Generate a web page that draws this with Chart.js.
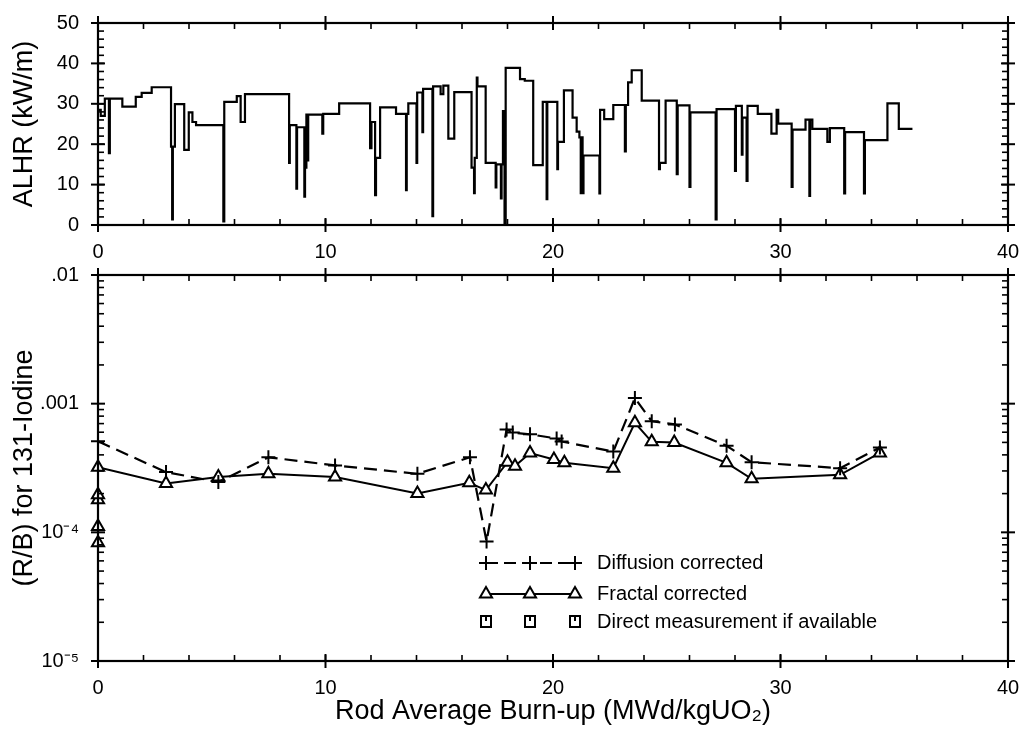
<!DOCTYPE html>
<html>
<head>
<meta charset="utf-8">
<title>ALHR and R/B for 131-Iodine vs burn-up</title>
<script src="https://cdn.jsdelivr.net/npm/chart.js@4.4.1/dist/chart.umd.min.js"></script>
<style>
  html, body { margin: 0; padding: 0; background: #fff; }
  #wrap { position: relative; width: 1028px; height: 731px; }
  canvas { position: absolute; left: 0; }
  #alhrChart { top: 0; }
  #rbChart { top: 252px; }
</style>
</head>
<body>
<div id="wrap">
  <canvas id="alhrChart" width="1028" height="264"></canvas>
  <canvas id="rbChart" width="1028" height="479"></canvas>
</div>
<script>
// power history (step: value holds from each burn-up until the next one)
const historyBurnup = [
  0.00, 0.12, 0.30, 0.48, 0.52, 1.07, 1.66, 1.92, 2.36, 3.21, 3.26, 3.29, 3.38, 3.79, 3.99, 4.15, 4.31,
  5.51, 5.55, 6.10, 6.27, 6.46, 8.40, 8.43, 8.72, 8.75, 9.07, 9.10, 9.12, 9.16, 9.20, 9.24, 9.86, 9.90,
  10.60, 11.96, 12.02, 12.18, 12.22, 12.40, 13.10, 13.54, 13.57, 13.64, 14.00, 14.03, 14.26, 14.29,
  14.70, 14.73, 15.06, 15.18, 15.40, 15.66, 16.42, 16.53, 16.56, 16.65, 16.68, 17.04, 17.48, 17.51,
  17.71, 17.74, 17.80, 17.87, 17.92, 18.55, 18.76, 19.13, 19.55, 19.72, 19.75, 20.19, 20.22, 20.48,
  20.86, 21.04, 21.16, 21.22, 21.25, 21.30, 21.34, 22.04, 22.07, 22.25, 22.65, 23.16, 23.20, 23.30,
  23.46, 23.90, 24.66, 24.70, 24.95, 25.44, 25.48, 26.00, 26.04, 27.15, 27.19, 28.00, 28.04, 28.30,
  28.33, 28.51, 28.55, 29.00, 29.60, 29.83, 29.90, 30.49, 30.53, 31.10, 31.27, 31.30, 31.40, 32.06,
  32.17, 32.80, 32.84, 33.67, 33.71, 34.70, 35.20, 35.80
];
const historyAlhr = [
  28.5, 27.0, 31.3, 17.8, 31.3, 29.3, 31.7, 32.7, 34.1, 19.4, 1.4, 19.4, 29.9, 18.6, 27.9, 25.5, 24.7,
  0.9, 30.5, 31.9, 25.5, 32.4, 15.4, 24.7, 9.0, 24.2, 7.0, 24.2, 14.2, 27.3, 16.0, 27.3, 22.6, 27.5,
  30.1, 19.0, 25.5, 7.4, 16.6, 29.1, 27.5, 8.6, 27.5, 30.1, 15.4, 32.8, 23.0, 33.7,
  2.2, 34.3, 32.4, 34.5, 21.4, 32.9, 14.2, 7.9, 16.6, 36.5, 34.3, 15.4, 9.3, 15.0,
  6.6, 15.0, 28.2, 0.5, 38.9, 36.1, 35.7, 14.8, 30.5, 6.4, 30.5, 13.8, 20.6, 33.3,
  26.6, 23.1, 21.7, 7.9, 21.7, 7.9, 17.2, 7.8, 28.5, 26.2, 29.7, 18.2, 29.7, 35.3,
  38.3, 30.8, 13.8, 15.4, 30.8, 12.6, 29.6, 9.4, 27.9, 1.4, 28.7, 13.4, 29.5, 17.4,
  26.6, 10.9, 29.5, 27.5, 22.6, 28.5, 25.1, 9.4, 23.6, 26.1, 7.2, 26.1, 23.8, 20.6,
  24.0, 7.8, 23.0, 7.8, 21.0, 30.1, 23.8, 23.8
];

// release-to-birth ratios
const diffusionBurnup = [0, 2.99, 5.29, 7.49, 10.42, 14.04, 16.35, 17.08, 17.96, 18.23, 18.99,
  20.16, 20.38, 22.65, 23.6, 24.34, 25.36, 27.63, 28.73, 32.62, 34.37];
const diffusionRB = [5.1e-4, 2.94e-4, 2.46e-4, 3.83e-4, 3.31e-4, 2.85e-4, 3.83e-4, 8.5e-5, 6.3e-4,
  5.96e-4, 5.78e-4, 5.36e-4, 5.08e-4, 4.24e-4, 1.106e-3, 7.3e-4, 6.9e-4, 4.71e-4, 3.51e-4, 3.15e-4, 4.57e-4];

const fractalBurnup = [0, 0, 0, 0, 0, 2.99, 5.29, 7.49, 10.42, 14.04, 16.32, 17.05, 18.0, 18.33, 18.99,
  20.04, 20.5, 22.65, 23.6, 24.34, 25.33, 27.63, 28.73, 32.62, 34.37];
const fractalRB = [8.3e-5, 1.11e-4, 1.79e-4, 1.96e-4, 3.21e-4, 2.4e-4, 2.69e-4, 2.85e-4, 2.69e-4, 2.0e-4,
  2.43e-4, 2.13e-4, 3.51e-4, 3.27e-4, 4.13e-4, 3.68e-4, 3.47e-4, 3.15e-4, 7.1e-4, 5.05e-4, 4.99e-4,
  3.47e-4, 2.61e-4, 2.8e-4, 4.14e-4];

const xTicks = [0, 10, 20, 30, 40];
const alhrTicks = [0, 10, 20, 30, 40, 50];
const rbTicks = [1e-2, 1e-3, 1e-4, 1e-5];
const rbTickLabels = ['.01', '.001', '10\u207B\u2074', '10\u207B\u2075'];
const legendLabels = ['Diffusion corrected', 'Fractal corrected', 'Direct measurement if available'];

Chart.defaults.font.family = "'Liberation Sans', Arial, sans-serif";
Chart.defaults.color = '#000';

const tickFont = { size: 20 };
const titleFont = { size: 27 };

// minor tick positions
const linMinor = (max, step) => {
  const out = [];
  for (let v = 0; v <= max; v += step) out.push(v);
  return out;
};
const logMinor = [];
[1e-5, 1e-4, 1e-3].forEach(d => { for (let m = 2; m <= 9; m++) logMinor.push(m * d); });

// box frame with crossing major ticks and inward minor ticks on all four sides
const framePlugin = {
  id: 'frameTicks',
  afterDraw(chart, args, opts) {
    const { ctx, chartArea: a } = chart;
    const xs = chart.scales.x, ys = chart.scales.y;
    const seg = (x1, y1, x2, y2) => { ctx.beginPath(); ctx.moveTo(x1, y1); ctx.lineTo(x2, y2); ctx.stroke(); };
    ctx.save();
    ctx.strokeStyle = '#000';
    ctx.lineWidth = 1.6;
    opts.xMinor.forEach(v => {
      const p = xs.getPixelForValue(v);
      seg(p, a.bottom, p, a.bottom - 6);
      seg(p, a.top, p, a.top + 6);
    });
    opts.yMinor.forEach(v => {
      const p = ys.getPixelForValue(v);
      seg(a.left, p, a.left + 6, p);
      seg(a.right, p, a.right - 6, p);
    });
    ctx.lineWidth = 2;
    opts.xMajor.forEach(v => {
      const p = xs.getPixelForValue(v);
      seg(p, a.bottom - 7, p, a.bottom + 7);
      seg(p, a.top - 7, p, a.top + 7);
    });
    opts.yMajor.forEach(v => {
      const p = ys.getPixelForValue(v);
      seg(a.left - 7, p, a.left + 7, p);
      seg(a.right - 7, p, a.right + 7, p);
    });
    ctx.lineWidth = 2.2;
    ctx.strokeRect(a.left, a.top, a.right - a.left, a.bottom - a.top);
    ctx.restore();
  }
};

// legend drawn inside the lower panel
const legendPlugin = {
  id: 'insideLegend',
  afterDraw(chart) {
    const ctx = chart.ctx;
    const marks = [486, 530, 575];
    const rows = [311, 342, 370];
    ctx.save();
    ctx.strokeStyle = '#000';
    ctx.fillStyle = '#fff';
    ctx.lineWidth = 2;

    ctx.setLineDash([12, 6]);
    ctx.beginPath(); ctx.moveTo(marks[0], rows[0]); ctx.lineTo(marks[2], rows[0]); ctx.stroke();
    ctx.setLineDash([]);
    marks.forEach(x => Chart.helpers.drawPoint(ctx, { pointStyle: 'cross', radius: 7, borderWidth: 2 }, x, rows[0]));

    ctx.beginPath(); ctx.moveTo(marks[0], rows[1]); ctx.lineTo(marks[2], rows[1]); ctx.stroke();
    marks.forEach(x => Chart.helpers.drawPoint(ctx, { pointStyle: 'triangle', radius: 7, borderWidth: 2 }, x, rows[1]));

    marks.forEach(x => {
      ctx.strokeRect(x - 5, rows[2] - 6, 10, 11);
      ctx.beginPath(); ctx.moveTo(x, rows[2] - 6); ctx.lineTo(x, rows[2] - 1); ctx.stroke();
    });

    ctx.fillStyle = '#000';
    ctx.font = "20px 'Liberation Sans', Arial, sans-serif";
    ctx.textBaseline = 'middle';
    legendLabels.forEach((t, i) => ctx.fillText(t, 597, rows[i]));
    ctx.restore();
  }
};

const xScale = (title) => ({
  type: 'linear',
  min: 0,
  max: 40,
  afterBuildTicks: s => { s.ticks = xTicks.map(v => ({ value: v })); },
  ticks: { font: tickFont, padding: 7, autoSkip: false, maxRotation: 0 },
  grid: { display: false },
  border: { display: false },
  title: title ? { display: true, text: title, font: titleFont, padding: { top: 0, bottom: 3 } } : { display: false }
});

new Chart(document.getElementById('alhrChart'), {
  type: 'line',
  data: {
    datasets: [{
      data: historyBurnup.map((x, i) => ({ x, y: historyAlhr[i] })),
      stepped: 'before',
      borderColor: '#000',
      borderWidth: 2.2,
      pointRadius: 0,
      fill: false
    }]
  },
  options: {
    responsive: false,
    animation: false,
    devicePixelRatio: 1,
    layout: { padding: { top: 17, right: 20, left: 0, bottom: 0 } },
    plugins: {
      legend: { display: false },
      tooltip: { enabled: false },
      frameTicks: { xMajor: xTicks, xMinor: linMinor(40, 2), yMajor: alhrTicks, yMinor: linMinor(50, 2) }
    },
    scales: {
      x: Object.assign(xScale(null), { afterFit: s => { s.height = 39; } }),
      y: {
        min: 0,
        max: 50,
        afterBuildTicks: s => { s.ticks = alhrTicks.map(v => ({ value: v })); },
        ticks: { font: tickFont, padding: 11 },
        grid: { display: false },
        border: { display: false },
        title: { display: true, text: 'ALHR (kW/m)', font: titleFont, padding: { top: 8 } },
        afterFit: s => { s.width = 98; }
      }
    }
  },
  plugins: [framePlugin]
});

new Chart(document.getElementById('rbChart'), {
  type: 'line',
  data: {
    datasets: [
      {
        label: legendLabels[0],
        data: diffusionBurnup.map((x, i) => ({ x, y: diffusionRB[i] })),
        borderColor: '#000',
        borderWidth: 2.2,
        borderDash: [13, 7],
        pointStyle: 'cross',
        pointRadius: 7,
        pointBorderWidth: 2,
        pointBorderColor: '#000',
        clip: false
      },
      {
        label: legendLabels[1],
        data: fractalBurnup.map((x, i) => ({ x, y: fractalRB[i] })),
        borderColor: '#000',
        borderWidth: 2,
        pointStyle: 'triangle',
        pointRadius: 7,
        pointBorderWidth: 2,
        pointBorderColor: '#000',
        pointBackgroundColor: '#fff',
        clip: false
      }
    ]
  },
  options: {
    responsive: false,
    animation: false,
    devicePixelRatio: 1,
    layout: { padding: { top: 17, right: 20, left: 0, bottom: 0 } },
    plugins: {
      legend: { display: false },
      tooltip: { enabled: false },
      frameTicks: { xMajor: xTicks, xMinor: linMinor(40, 2), yMajor: rbTicks, yMinor: logMinor }
    },
    scales: {
      x: Object.assign(xScale('Rod Average Burn-up (MWd/kgUO\u2082)'), { afterFit: s => { s.height = 70; } }),
      y: {
        type: 'logarithmic',
        min: 1e-5,
        max: 1e-2,
        afterBuildTicks: s => { s.ticks = rbTicks.map(v => ({ value: v })); },
        ticks: { font: tickFont, padding: 11, callback: (v, i) => rbTickLabels[i] },
        grid: { display: false },
        border: { display: false },
        title: { display: true, text: '(R/B) for 131-Iodine', font: titleFont, padding: { top: 8 } },
        afterFit: s => { s.width = 98; }
      }
    }
  },
  plugins: [framePlugin, legendPlugin]
});
</script>
</body>
</html>
